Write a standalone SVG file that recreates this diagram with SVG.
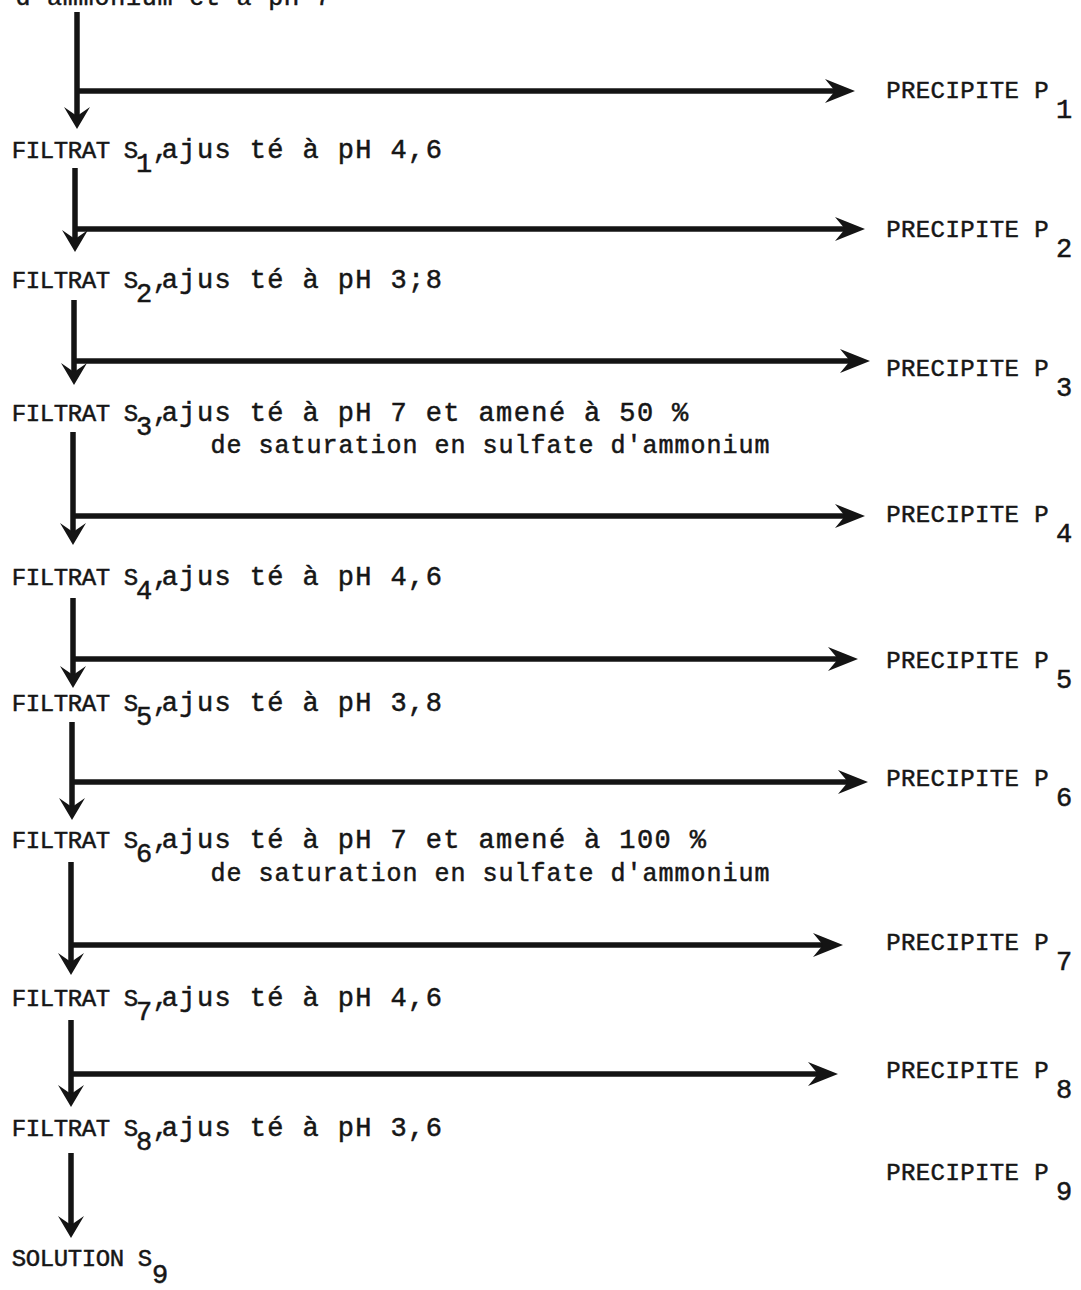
<svg xmlns="http://www.w3.org/2000/svg" width="1081" height="1290" viewBox="0 0 1081 1290">
  <style>
    text { font-family: "Liberation Mono", "Courier New", monospace; fill: #161616; stroke: #161616; stroke-width: 0.5; text-anchor: middle; }
    .caps { font-size: 24px; }
    .lc { font-size: 27px; }
    .el { font-size: 25px; }
    .sub { font-size: 27px; }
    .flow { stroke: #141414; stroke-width: 5.5; fill: none; }
    .down { marker-end: url(#headV); }
    .side { marker-end: url(#headH); }
  </style>
  <defs>
    <!-- vertical step arrowhead: notch at origin, tip 13px further -->
    <marker id="headV" markerUnits="userSpaceOnUse" viewBox="-10 -14 24 28" markerWidth="24" markerHeight="28" refX="0" refY="0" orient="auto" overflow="visible">
      <path d="M13,0 L-9,-13 L0,0 L-9,13 Z" fill="#141414"/>
    </marker>
    <!-- side branch arrowhead: notch at origin, tip 20px further -->
    <marker id="headH" markerUnits="userSpaceOnUse" viewBox="-11 -13 32 26" markerWidth="32" markerHeight="26" refX="0" refY="0" orient="auto" overflow="visible">
      <path d="M20,0 L-10,-12 L0,0 L-10,12 Z" fill="#141414"/>
    </marker>
  </defs>

  <!-- connectors -->
  <g id="connectors">
    <path class="flow down" d="M77,12 V116"/>
    <path class="flow side" d="M77,91 H835"/>
    <path class="flow down" d="M75,168 V239"/>
    <path class="flow side" d="M75,229 H845"/>
    <path class="flow down" d="M74,300 V372"/>
    <path class="flow side" d="M74,361 H850"/>
    <path class="flow down" d="M73,432 V532"/>
    <path class="flow side" d="M73,516 H845"/>
    <path class="flow down" d="M73,598 V675"/>
    <path class="flow side" d="M73,659 H838"/>
    <path class="flow down" d="M72,722 V807"/>
    <path class="flow side" d="M72,782 H848"/>
    <path class="flow down" d="M71,862 V962"/>
    <path class="flow side" d="M71,945 H823"/>
    <path class="flow down" d="M71,1020 V1094"/>
    <path class="flow side" d="M71,1074 H818"/>
    <path class="flow down" d="M71,1153 V1225"/>
  </g>

  <!-- start solution (line continued from above) -->
  <g id="start">
    <text class="el" y="5" x="22.9 38.7 54.5 70.3 86.1 101.9 117.7 133.5 149.3 165.1 180.9 196.7 212.5 228.3 244.1 259.9 275.7 291.5 307.3 323.1">d'ammonium et à pH 7</text>
  </g>

  <!-- filtrates: caps label, lowered index, then typed conditions -->
  <g id="filtrat-s1">
    <text y="158"><tspan class="caps" x="19 33 47 61 75 89 103 117 131">FILTRAT S</tspan><tspan class="sub" x="144" dy="14">1</tspan><tspan class="lc" dy="-14" x="160.5 165 169.8 187.4 205 222.6 240.2 257.8 275.4 293 310.6 328.2 345.8 363.4 381 398.6 416.2 433.8">, ajus té à pH 4,6</tspan></text>
  </g>
  <g id="filtrat-s2">
    <text y="288"><tspan class="caps" x="19 33 47 61 75 89 103 117 131">FILTRAT S</tspan><tspan class="sub" x="144" dy="14">2</tspan><tspan class="lc" dy="-14" x="160.5 165 169.8 187.4 205 222.6 240.2 257.8 275.4 293 310.6 328.2 345.8 363.4 381 398.6 416.2 433.8">, ajus té à pH 3;8</tspan></text>
  </g>
  <g id="filtrat-s3">
    <text y="421"><tspan class="caps" x="19 33 47 61 75 89 103 117 131">FILTRAT S</tspan><tspan class="sub" x="144" dy="14">3</tspan><tspan class="lc" dy="-14" x="160.5 165 169.8 187.4 205 222.6 240.2 257.8 275.4 293 310.6 328.2 345.8 363.4 381 398.6 416.2 433.8 451.4 469 486.6 504.2 521.8 539.4 557 574.6 592.2 609.8 627.4 645 662.6 680.2">, ajus té à pH 7 et amené à 50 %</tspan></text>
    <text class="el" y="453" x="218 234 250 266 282 298 314 330 346 362 378 394 410 426 442 458 474 490 506 522 538 554 570 586 602 618 634 650 666 682 698 714 730 746 762">de saturation en sulfate d'ammonium</text>
  </g>
  <g id="filtrat-s4">
    <text y="585"><tspan class="caps" x="19 33 47 61 75 89 103 117 131">FILTRAT S</tspan><tspan class="sub" x="144" dy="14">4</tspan><tspan class="lc" dy="-14" x="160.5 165 169.8 187.4 205 222.6 240.2 257.8 275.4 293 310.6 328.2 345.8 363.4 381 398.6 416.2 433.8">, ajus té à pH 4,6</tspan></text>
  </g>
  <g id="filtrat-s5">
    <text y="711"><tspan class="caps" x="19 33 47 61 75 89 103 117 131">FILTRAT S</tspan><tspan class="sub" x="144" dy="14">5</tspan><tspan class="lc" dy="-14" x="160.5 165 169.8 187.4 205 222.6 240.2 257.8 275.4 293 310.6 328.2 345.8 363.4 381 398.6 416.2 433.8">, ajus té à pH 3,8</tspan></text>
  </g>
  <g id="filtrat-s6">
    <text y="848"><tspan class="caps" x="19 33 47 61 75 89 103 117 131">FILTRAT S</tspan><tspan class="sub" x="144" dy="14">6</tspan><tspan class="lc" dy="-14" x="160.5 165 169.8 187.4 205 222.6 240.2 257.8 275.4 293 310.6 328.2 345.8 363.4 381 398.6 416.2 433.8 451.4 469 486.6 504.2 521.8 539.4 557 574.6 592.2 609.8 627.4 645 662.6 680.2 697.8">, ajus té à pH 7 et amené à 100 %</tspan></text>
    <text class="el" y="881" x="218 234 250 266 282 298 314 330 346 362 378 394 410 426 442 458 474 490 506 522 538 554 570 586 602 618 634 650 666 682 698 714 730 746 762">de saturation en sulfate d'ammonium</text>
  </g>
  <g id="filtrat-s7">
    <text y="1006"><tspan class="caps" x="19 33 47 61 75 89 103 117 131">FILTRAT S</tspan><tspan class="sub" x="144" dy="14">7</tspan><tspan class="lc" dy="-14" x="160.5 165 169.8 187.4 205 222.6 240.2 257.8 275.4 293 310.6 328.2 345.8 363.4 381 398.6 416.2 433.8">, ajus té à pH 4,6</tspan></text>
  </g>
  <g id="filtrat-s8">
    <text y="1136"><tspan class="caps" x="19 33 47 61 75 89 103 117 131">FILTRAT S</tspan><tspan class="sub" x="144" dy="14">8</tspan><tspan class="lc" dy="-14" x="160.5 165 169.8 187.4 205 222.6 240.2 257.8 275.4 293 310.6 328.2 345.8 363.4 381 398.6 416.2 433.8">, ajus té à pH 3,6</tspan></text>
  </g>
  <g id="solution-s9">
    <text y="1266"><tspan class="caps" x="19 33 47 61 75 89 103 117 131 145">SOLUTION S</tspan><tspan class="sub" x="160" dy="17">9</tspan></text>
  </g>

  <!-- precipitates -->
  <g id="precipite-p1">
    <text y="98"><tspan class="caps" x="893.4 908.2 923 937.8 952.6 967.4 982.2 997 1011.8 1026.6 1041.4">PRECIPITE P</tspan><tspan class="sub" x="1064" dy="20">1</tspan></text>
  </g>
  <g id="precipite-p2">
    <text y="237"><tspan class="caps" x="893.4 908.2 923 937.8 952.6 967.4 982.2 997 1011.8 1026.6 1041.4">PRECIPITE P</tspan><tspan class="sub" x="1064" dy="20">2</tspan></text>
  </g>
  <g id="precipite-p3">
    <text y="376"><tspan class="caps" x="893.4 908.2 923 937.8 952.6 967.4 982.2 997 1011.8 1026.6 1041.4">PRECIPITE P</tspan><tspan class="sub" x="1064" dy="20">3</tspan></text>
  </g>
  <g id="precipite-p4">
    <text y="522"><tspan class="caps" x="893.4 908.2 923 937.8 952.6 967.4 982.2 997 1011.8 1026.6 1041.4">PRECIPITE P</tspan><tspan class="sub" x="1064" dy="20">4</tspan></text>
  </g>
  <g id="precipite-p5">
    <text y="668"><tspan class="caps" x="893.4 908.2 923 937.8 952.6 967.4 982.2 997 1011.8 1026.6 1041.4">PRECIPITE P</tspan><tspan class="sub" x="1064" dy="20">5</tspan></text>
  </g>
  <g id="precipite-p6">
    <text y="786"><tspan class="caps" x="893.4 908.2 923 937.8 952.6 967.4 982.2 997 1011.8 1026.6 1041.4">PRECIPITE P</tspan><tspan class="sub" x="1064" dy="20">6</tspan></text>
  </g>
  <g id="precipite-p7">
    <text y="950"><tspan class="caps" x="893.4 908.2 923 937.8 952.6 967.4 982.2 997 1011.8 1026.6 1041.4">PRECIPITE P</tspan><tspan class="sub" x="1064" dy="20">7</tspan></text>
  </g>
  <g id="precipite-p8">
    <text y="1078"><tspan class="caps" x="893.4 908.2 923 937.8 952.6 967.4 982.2 997 1011.8 1026.6 1041.4">PRECIPITE P</tspan><tspan class="sub" x="1064" dy="20">8</tspan></text>
  </g>
  <g id="precipite-p9">
    <text y="1180"><tspan class="caps" x="893.4 908.2 923 937.8 952.6 967.4 982.2 997 1011.8 1026.6 1041.4">PRECIPITE P</tspan><tspan class="sub" x="1064" dy="20">9</tspan></text>
  </g>
</svg>
